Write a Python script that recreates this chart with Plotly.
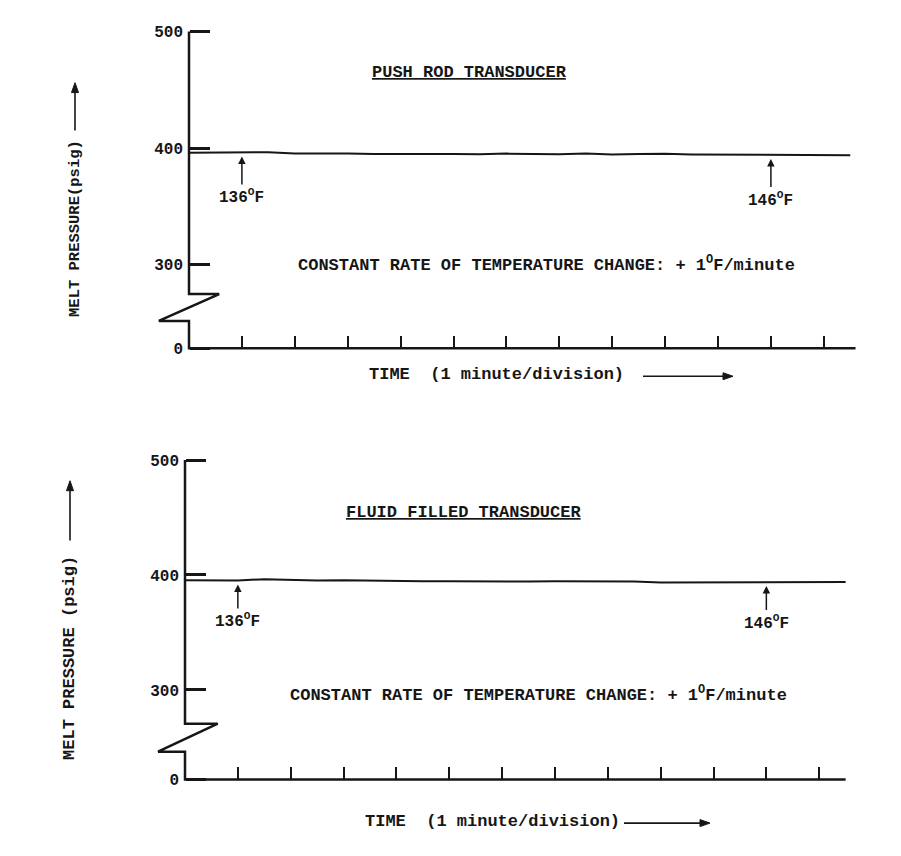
import plotly.graph_objects as go

# time along the trace, 1 minute per division
minutes = [0, 0.5, 1, 1.5, 2, 2.5, 3, 3.5, 4, 4.5, 5, 5.5, 6, 6.5, 7, 7.5, 8, 8.5, 9, 9.5, 10, 10.5, 11, 11.5, 12, 12.5]

# melt pressure (psig)
push_rod_psig = [396.0, 396.0, 396.2, 396.4, 395.4, 395.6, 395.3, 394.8, 395.0, 395.2, 394.8, 394.6, 395.2,
                 394.8, 394.7, 395.3, 394.4, 394.8, 395.0, 394.5, 394.4, 394.2, 394.0, 394.0, 393.8, 393.8]
fluid_filled_psig = [395.5, 395.5, 395.3, 396.3, 395.5, 395.2, 395.5, 395.0, 395.0, 394.6, 394.6, 394.3, 394.5,
                     394.3, 394.5, 394.3, 394.5, 394.3, 393.4, 393.5, 394.0, 394.0, 393.8, 393.8, 394.0, 394.0]

# temperature marks on the traces
marker_minutes = [1, 11]
marker_labels = ['136<sup>O</sup>F', '146<sup>O</sup>F']

# broken y axis: "0" sits just under the break
tick_text = ['<b>0</b>', '<b>300</b>', '<b>400</b>', '<b>500</b>']
top_tickvals = [228, 300, 400, 500]
bottom_tickvals = [222, 300, 400, 500]
x_tickvals = [1, 2, 3, 4, 5, 6, 7, 8, 9, 10, 11, 12]

# the page has an 8px body margin, so the figure is a bit smaller and shifted
OFF = 8
FW, FH = 885, 840
INK = '#161616'
FONT = 'Liberation Mono'


def px(p):
    return (p - OFF) / FW


def py(p):
    return 1 - (p - OFF) / FH


def xrange_for(left, right, origin, per_min):
    return [(left - origin) / per_min, (right - origin) / per_min]


def yrange_for(top, bottom, y400, per_psig):
    return [400 - (bottom - y400) / per_psig, 400 + (y400 - top) / per_psig]


fig = go.Figure()
fig.add_trace(go.Scatter(x=minutes, y=push_rod_psig, mode='lines', line=dict(color=INK, width=2),
                         xaxis='x', yaxis='y', hoverinfo='skip'))
fig.add_trace(go.Scatter(x=minutes, y=fluid_filled_psig, mode='lines', line=dict(color=INK, width=2),
                         xaxis='x2', yaxis='y2', hoverinfo='skip'))

xcommon = dict(showgrid=False, zeroline=False, showline=False, ticks='inside', tickvals=x_tickvals,
               ticklen=12, tickwidth=2, tickcolor=INK, showticklabels=False, anchor='free')
ycommon = dict(showgrid=False, zeroline=False, showline=False, ticks='inside', ticktext=tick_text,
               ticklen=20, tickwidth=2.5, tickcolor=INK, anchor='free', ticklabelstandoff=6,
               tickfont=dict(family=FONT, size=16, color=INK))

fig.update_layout(
    width=FW, height=FH,
    margin=dict(l=0, r=0, t=0, b=0),
    paper_bgcolor='white', plot_bgcolor='white',
    showlegend=False,
    font=dict(family=FONT, color=INK),
    xaxis=dict(xcommon, domain=[px(140), px(870)], range=xrange_for(140, 870, 189, 52.9), position=py(349)),
    yaxis=dict(ycommon, domain=[py(358), py(20)], range=yrange_for(20, 358, 147.7, 1.17),
               tickvals=top_tickvals, position=px(189)),
    xaxis2=dict(xcommon, domain=[px(140), px(870)], range=xrange_for(140, 870, 185, 52.85), position=py(782)),
    yaxis2=dict(ycommon, domain=[py(790), py(455)], range=yrange_for(455, 790, 576.7, 1.155),
                tickvals=bottom_tickvals, position=px(185)),
)

# axis lines with the zigzag break
fig.add_shape(type='path', xref='x', yref='y', line=dict(color=INK, width=2.5),
              path='M 0,500 L 0,274.6 L 0.57,274.6 L -0.57,251.5 L 0,251.5 L 0,228 L 12.6,228')
fig.add_shape(type='path', xref='x2', yref='y2', line=dict(color=INK, width=2.5),
              path='M 0,500 L 0,270.6 L 0.62,270.6 L -0.51,246.3 L 0,246.3 L 0,222 L 12.5,222')

big = dict(family=FONT, size=17, color=INK)


def label(text, x, y, font=big, angle=0):
    fig.add_annotation(text=text, xref='paper', yref='paper', x=px(x), y=py(y), showarrow=False,
                       xanchor='center', yanchor='middle', textangle=angle, font=font)


def arrow(x0, y0, x1, y1, head=10, half=3.5):
    # shaft plus a filled head, pixel coords of the page, head at (x1, y1)
    dx, dy = x1 - x0, y1 - y0
    n = (dx * dx + dy * dy) ** 0.5
    ux, uy = dx / n, dy / n
    bx, by = x1 - ux * head, y1 - uy * head
    fig.add_shape(type='line', xref='paper', yref='paper', x0=px(x0), y0=py(y0), x1=px(bx), y1=py(by),
                  line=dict(color=INK, width=1.6))
    pts = [(x1, y1), (bx - uy * half, by + ux * half), (bx + uy * half, by - ux * half)]
    path = 'M ' + ' L '.join('%.5f,%.5f' % (px(a), py(b)) for a, b in pts) + ' Z'
    fig.add_shape(type='path', xref='paper', yref='paper', path=path, fillcolor=INK,
                  line=dict(color=INK, width=1))


# panel titles
label('<b><u>PUSH ROD TRANSDUCER</u></b>', 469, 72)
label('<b><u>FLUID FILLED TRANSDUCER</u></b>', 463, 514)

# rate note
note = '<b>CONSTANT RATE OF TEMPERATURE CHANGE: + 1<sup>O</sup>F/minute</b>'
label(note, 546, 264)
label(note, 538, 696)

# x titles with arrows
label('<b>TIME  (1 minute/division)</b>', 496, 375)
arrow(643, 377, 733, 377)
label('<b>TIME  (1 minute/division)</b>', 493, 824)
arrow(624, 826, 710, 826)

# y titles with arrows
label('<b>MELT PRESSURE(psig)</b>', 75, 229, dict(family=FONT, size=15.5, color=INK), -90)
arrow(75, 130, 75, 82)
label('<b>MELT PRESSURE (psig)</b>', 70, 660, dict(family=FONT, size=17, color=INK), -90)
arrow(70, 542, 70, 482)

# temperature marks
for m, lab in zip(marker_minutes, marker_labels):
    i = minutes.index(m)
    fig.add_annotation(text='<b>' + lab + '</b>', xref='x', yref='y', x=m, y=push_rod_psig[i],
                       ax=0, ay=44, standoff=4, showarrow=True, arrowhead=2, arrowsize=1,
                       arrowwidth=1.5, arrowcolor=INK, font=dict(family=FONT, size=16, color=INK))
    fig.add_annotation(text='<b>' + lab + '</b>', xref='x2', yref='y2', x=m, y=fluid_filled_psig[i],
                       ax=0, ay=40, standoff=4, showarrow=True, arrowhead=2, arrowsize=1,
                       arrowwidth=1.5, arrowcolor=INK, font=dict(family=FONT, size=16, color=INK))

fig.write_html("out.html")
